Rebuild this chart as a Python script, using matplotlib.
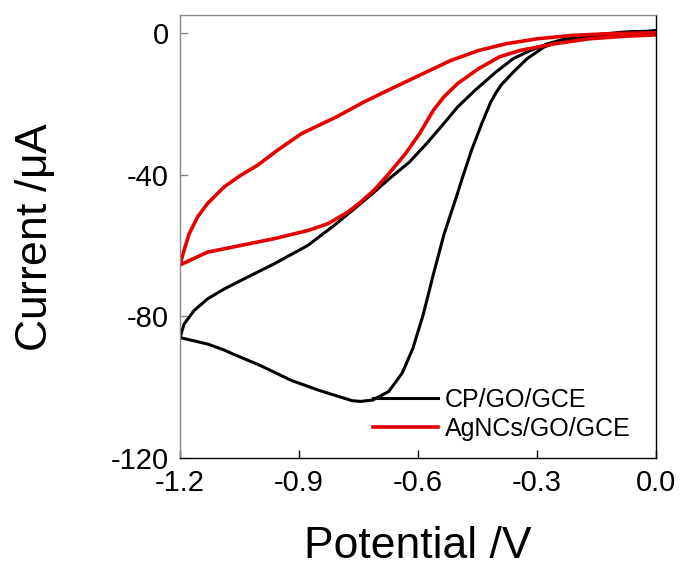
import matplotlib.pyplot as plt

plt.rcParams['font.family'] = ['Liberation Sans', 'DejaVu Sans']
plt.rcParams['axes.unicode_minus'] = False
plt.rcParams['mathtext.fontset'] = 'custom'
plt.rcParams['mathtext.rm'] = 'Liberation Sans'
plt.rcParams['mathtext.it'] = 'Liberation Sans'

# CP/GO/GCE: cathodic sweep 0 -> -1.2 V, then return sweep -1.2 -> 0 V
cp_fwd_v = [0.0, -0.081, -0.168, -0.238, -0.282, -0.325, -0.360, -0.391, -0.404, -0.417,
            -0.439, -0.465, -0.487, -0.504, -0.535, -0.561, -0.587, -0.613, -0.640, -0.674,
            -0.714, -0.745, -0.766, -0.849, -0.919, -0.997, -1.067, -1.089, -1.128, -1.165, -1.2]
cp_fwd_i = [0.5, 0.2, -0.75, -2.2, -4.0, -7.3, -11.1, -14.8, -17.0, -19.6,
            -25.5, -33.1, -40.5, -46.5, -57.0, -68.0, -79.5, -89.0, -96.0, -101.2,
            -103.6, -104.0, -103.8, -100.9, -98.1, -93.9, -90.6, -89.5, -87.9, -86.9, -86.0]
cp_rev_v = [-1.2, -1.190, -1.165, -1.131, -1.089, -1.047, -0.963, -0.878, -0.811, -0.760,
            -0.710, -0.674, -0.622, -0.578, -0.535, -0.500, -0.456, -0.404, -0.360, -0.317,
            -0.273, -0.229, -0.15, -0.08, 0.0]
cp_rev_i = [-86.0, -82.2, -78.4, -75.1, -72.3, -69.9, -65.2, -60.0, -54.3, -49.6,
            -44.9, -41.3, -36.5, -31.2, -25.6, -20.9, -16.2, -11.1, -7.3, -5.0,
            -3.1, -1.7, -0.8, 0.0, 0.5]

# AgNCs/GO/GCE
ag_fwd_v = [0.0, -0.081, -0.168, -0.255, -0.343, -0.395, -0.447, -0.500, -0.535, -0.561,
            -0.596, -0.631, -0.674, -0.710, -0.743, -0.777, -0.828, -0.878, -0.963, -1.047,
            -1.131, -1.2]
ag_fwd_i = [-0.6, -1.0, -1.7, -3.1, -5.0, -6.8, -10.1, -14.3, -18.1, -21.8,
            -28.4, -34.0, -39.8, -44.3, -47.6, -50.6, -53.9, -55.8, -58.1, -60.0,
            -61.9, -65.5]
ag_rev_v = [-1.2, -1.190, -1.177, -1.156, -1.131, -1.089, -1.047, -1.005, -0.954, -0.893,
            -0.805, -0.736, -0.666, -0.587, -0.517, -0.447, -0.378, -0.299, -0.212, -0.125, 0.0]
ag_rev_i = [-65.5, -61.4, -56.7, -52.0, -48.2, -43.5, -40.2, -37.4, -33.1, -28.4,
            -23.7, -19.5, -15.7, -11.5, -7.8, -5.0, -3.1, -1.7, -0.75, -0.3, 0.0]

x_ticks = [-1.2, -0.9, -0.6, -0.3, 0.0]
y_ticks = [0, -40, -80, -120]

fig = plt.figure(figsize=(6.82, 5.67), dpi=100)
ax = fig.add_axes([0.264, 0.192, 0.698, 0.7815])

ax.plot(cp_fwd_v + cp_rev_v, cp_fwd_i + cp_rev_i, color='black', lw=2.2, label='CP/GO/GCE')
ax.plot(ag_fwd_v + ag_rev_v, ag_fwd_i + ag_rev_i, color='#e50000', lw=2.6, label='AgNCs/GO/GCE')

ax.set_xlim(-1.2, 0.0)
ax.set_ylim(-120, 5)
ax.set_xticks(x_ticks)
ax.set_xticklabels(['%.1f' % v for v in x_ticks])
ax.set_yticks(y_ticks)
ax.tick_params(direction='in', length=5.5, width=1, labelsize=21, pad=8)
ax.tick_params(axis='y', color='#888888')
ax.tick_params(axis='x', color='black')
ax.spines['left'].set_color('#888888')
ax.spines['top'].set_color('#888888')
ax.spines['bottom'].set_color('black')
ax.spines['right'].set_color('black')
for s in ax.spines.values():
    s.set_linewidth(1)

ax.set_xlabel('Potential /V', fontsize=32)
ax.set_ylabel(r'Current /$\mu$A', fontsize=32)
ax.xaxis.set_label_coords(0.5, -0.153)
ax.yaxis.set_label_coords(-0.258, 0.5)

ax.legend(loc='upper left', bbox_to_anchor=(0.405, 0.159), frameon=False, fontsize=18,
          handlelength=2.6, handletextpad=0.28, labelspacing=0.2,
          borderpad=0, borderaxespad=0)

fig.savefig('out.png', dpi=100)
